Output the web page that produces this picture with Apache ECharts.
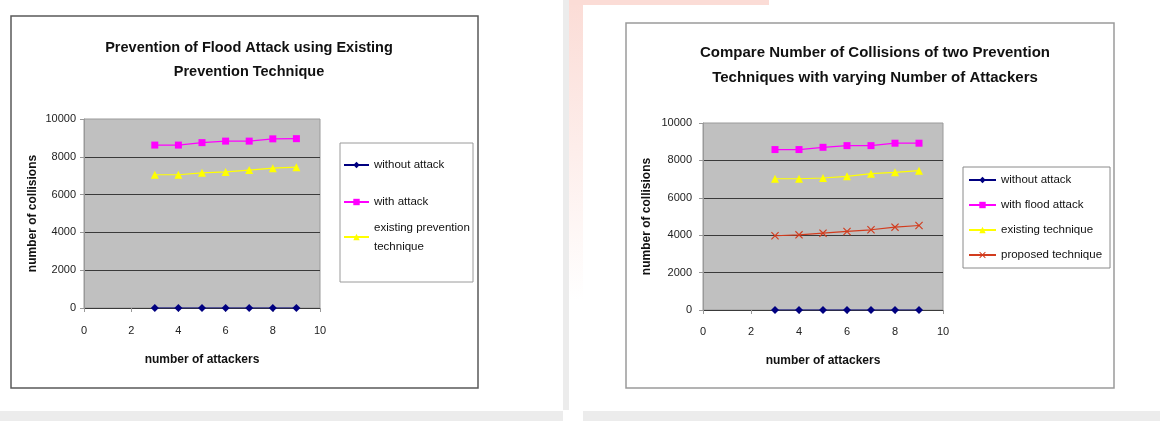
<!DOCTYPE html>
<html>
<head>
<meta charset="utf-8">
<script src="https://cdn.jsdelivr.net/npm/echarts@6/dist/echarts.min.js"></script>
<style>
  html, body { margin: 0; padding: 0; background: #fff; }
  #chart { width: 1160px; height: 421px; }
</style>
</head>
<body>
<div id="chart"></div>
<script>
// number of attackers (x values, shared by every series)
const attackers = [3, 4, 5, 6, 7, 8, 9]

// left chart: existing prevention technique
const leftWithout = [0, 0, 0, 0, 0, 0, 0]
const leftWithAttack = [8620, 8620, 8750, 8830, 8830, 8950, 8960]
const leftExisting = [7050, 7050, 7150, 7200, 7300, 7400, 7450]

// right chart: both techniques compared
const rightWithout = [0, 0, 0, 0, 0, 0, 0]
const rightFlood = [8580, 8580, 8700, 8790, 8790, 8920, 8920]
const rightExisting = [7020, 7020, 7060, 7150, 7290, 7360, 7450]
const rightProposed = [3970, 4020, 4110, 4200, 4290, 4430, 4520]

// axis ticks
const xTicks = [0, 2, 4, 6, 8, 10]
const yTicks = [0, 2000, 4000, 6000, 8000, 10000]

const font = 'Liberation Sans, Arial, sans-serif'
const NAVY = '#000080'
const PINK = '#ff00ff'
const YELLOW = '#ffff00'
const RED = '#d23c1e'
const crossPath = 'path://M0,1L1,0L5,4L9,0L10,1L6,5L10,9L9,10L5,6L1,10L0,9L4,5Z'

const pairs = values => attackers.map((x, i) => [x, values[i]])

const xAxisFor = (gridIndex, margin, nameGap) => ({
  gridIndex,
  type: 'value',
  min: xTicks[0],
  max: xTicks[xTicks.length - 1],
  interval: xTicks[1] - xTicks[0],
  name: 'number of attackers',
  nameLocation: 'middle',
  nameGap,
  nameTextStyle: { color: '#111', fontFamily: font, fontSize: 12, fontWeight: 'bold' },
  axisLine: { onZero: false, lineStyle: { color: '#3a3a3a', width: 1 } },
  axisTick: { show: true, length: 4, lineStyle: { color: '#999' } },
  axisLabel: { color: '#222', fontFamily: font, fontSize: 11, margin, formatter: v => String(v) },
  splitLine: { show: false }
})

const yAxisFor = (gridIndex, margin, nameGap) => ({
  gridIndex,
  type: 'value',
  min: yTicks[0],
  max: yTicks[yTicks.length - 1],
  interval: yTicks[1] - yTicks[0],
  name: 'number of collisions',
  nameLocation: 'middle',
  nameGap,
  nameTextStyle: { color: '#111', fontFamily: font, fontSize: 12, fontWeight: 'bold' },
  axisLine: { show: true, lineStyle: { color: '#999', width: 1 } },
  axisTick: { show: true, length: 4, lineStyle: { color: '#999' } },
  axisLabel: { color: '#222', fontFamily: font, fontSize: 11, margin, formatter: v => String(v) },
  splitLine: { show: true, showMaxLine: false, showMinLine: false, lineStyle: { color: '#3a3a3a', width: 1 } }
})

const lineSeries = (name, values, color, symbol, symbolSize, axisIndex) => ({
  name,
  type: 'line',
  xAxisIndex: axisIndex,
  yAxisIndex: axisIndex,
  data: pairs(values),
  symbol,
  symbolSize,
  color,
  lineStyle: { color, width: 1.2 },
  itemStyle: { color, borderWidth: 0 },
  animation: false
})

const legendText = { color: '#111', fontFamily: font, fontSize: 11.5, lineHeight: 14 }

const chart = echarts.init(document.getElementById('chart'))
chart.setOption({
  backgroundColor: '#fff',
  animation: false,
  title: [
    {
      text: 'Prevention of Flood Attack using Existing\nPrevention Technique',
      left: 244,
      top: 31,
      textAlign: 'center',
      textStyle: { color: '#111', fontFamily: font, fontSize: 14.5, fontWeight: 'bold', lineHeight: 24 }
    },
    {
      text: 'Compare Number of Collisions of two Prevention\nTechniques with varying Number of Attackers',
      left: 870,
      top: 35,
      textAlign: 'center',
      textStyle: { color: '#111', fontFamily: font, fontSize: 15, fontWeight: 'bold', lineHeight: 25 }
    }
  ],
  grid: [
    { left: 84, top: 119, width: 236, height: 189, show: true, backgroundColor: '#c0c0c0', borderColor: '#9a9a9a', borderWidth: 1 },
    { left: 703, top: 123, width: 240, height: 187, show: true, backgroundColor: '#c0c0c0', borderColor: '#9a9a9a', borderWidth: 1 }
  ],
  xAxis: [xAxisFor(0, 17, 46), xAxisFor(1, 16, 45)],
  yAxis: [yAxisFor(0, 8, 45), yAxisFor(1, 11, 50)],
  legend: [
    {
      data: ['without attack'], left: 343, top: 158, padding: 0,
      itemWidth: 25, itemHeight: 8, textStyle: legendText, selectedMode: false
    },
    {
      data: ['with attack'], left: 343, top: 195, padding: 0,
      itemWidth: 25, itemHeight: 8, textStyle: legendText, selectedMode: false
    },
    {
      data: ['existing prevention technique'], left: 343, top: 218, padding: 0,
      itemWidth: 25, itemHeight: 8, selectedMode: false,
      formatter: () => 'existing prevention\ntechnique',
      textStyle: { ...legendText, lineHeight: 19 }
    },
    {
      data: ['without attack', 'with flood attack', 'existing technique', 'proposed technique'],
      orient: 'vertical', left: 963, top: 167,
      padding: [6, 8, 6, 5], itemGap: 11, itemWidth: 27, itemHeight: 8,
      borderColor: '#8a8a8a', borderWidth: 1,
      textStyle: legendText, selectedMode: false
    }
  ],
  graphic: [
    // page furniture around the two screenshots
    { type: 'rect', shape: { x: 563, y: 0, width: 6, height: 410 }, style: { fill: '#ececec' }, silent: true },
    {
      type: 'rect', shape: { x: 569, y: 0, width: 14, height: 300 }, silent: true,
      style: { fill: new echarts.graphic.LinearGradient(0, 0, 0, 1, [{ offset: 0, color: '#fbdcd6' }, { offset: 1, color: '#ffffff' }]) }
    },
    { type: 'rect', shape: { x: 569, y: 0, width: 200, height: 5 }, style: { fill: '#fbdcd6' }, silent: true },
    { type: 'rect', shape: { x: 0, y: 411, width: 563, height: 10 }, style: { fill: '#ececec' }, silent: true },
    { type: 'rect', shape: { x: 583, y: 411, width: 577, height: 10 }, style: { fill: '#ececec' }, silent: true },
    // chart frames and left legend frame
    { type: 'rect', shape: { x: 11, y: 16, width: 467, height: 372 }, style: { fill: 'none', stroke: '#5a5a5a', lineWidth: 1.5 }, silent: true },
    { type: 'rect', shape: { x: 626, y: 23, width: 488, height: 365 }, style: { fill: 'none', stroke: '#9a9a9a', lineWidth: 1.5 }, silent: true },
    { type: 'rect', shape: { x: 340, y: 143, width: 133, height: 139 }, style: { fill: 'none', stroke: '#9a9a9a', lineWidth: 1 }, silent: true }
  ],
  series: [
    lineSeries('without attack', leftWithout, NAVY, 'diamond', 8, 0),
    lineSeries('with attack', leftWithAttack, PINK, 'rect', 7, 0),
    lineSeries('existing prevention technique', leftExisting, YELLOW, 'triangle', 8, 0),
    lineSeries('without attack', rightWithout, NAVY, 'diamond', 8, 1),
    lineSeries('with flood attack', rightFlood, PINK, 'rect', 7, 1),
    lineSeries('existing technique', rightExisting, YELLOW, 'triangle', 8, 1),
    lineSeries('proposed technique', rightProposed, RED, crossPath, 8, 1)
  ]
})

window.addEventListener('resize', () => chart.resize())
</script>
</body>
</html>
